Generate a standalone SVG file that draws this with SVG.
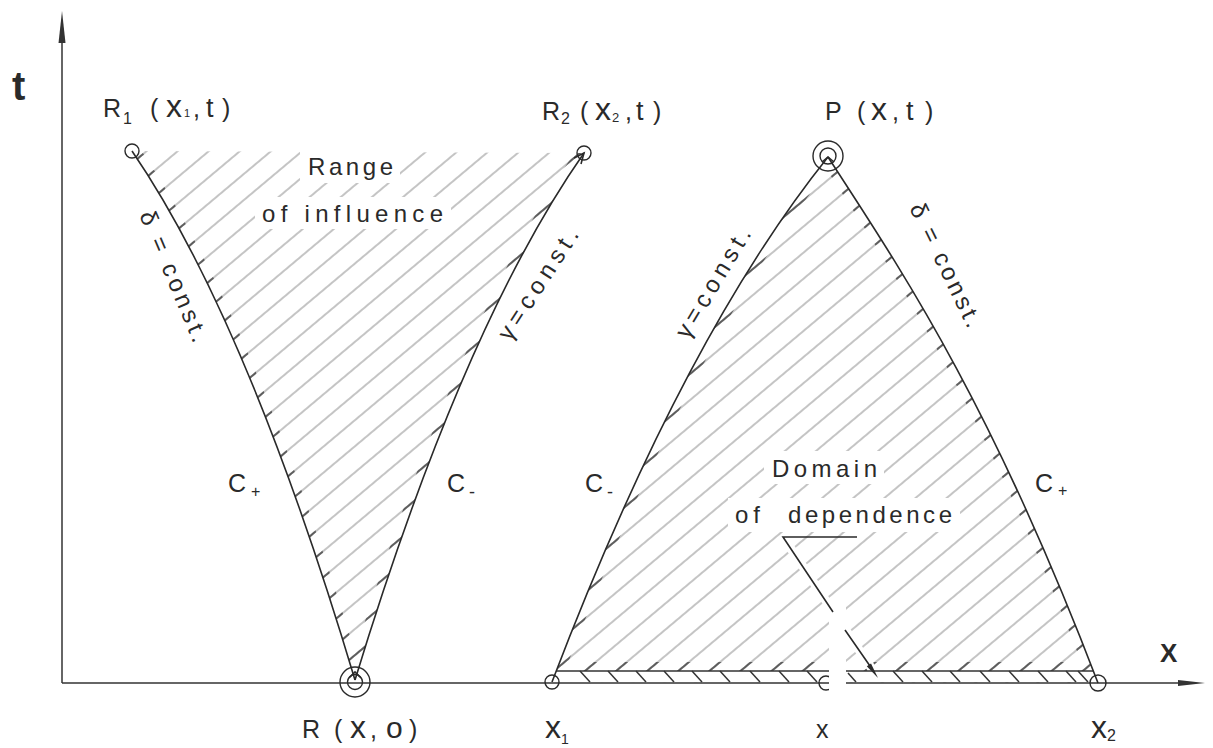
<svg xmlns="http://www.w3.org/2000/svg" width="1213" height="748" viewBox="0 0 1213 748">
<style>
.ln{stroke:#2a2a2a;stroke-width:1.6;fill:none}
.ax{stroke:#333;stroke-width:1.5;fill:none}
.cir{stroke:#2a2a2a;stroke-width:1.4;fill:none}
.tk{stroke:#333;stroke-width:1.5}
.lbl{font-family:"Liberation Sans",Arial,sans-serif;font-size:25px;fill:#2a2a2a}
.lc{font-size:32px}
.sub{font-size:16px}
.txt{font-family:"Liberation Sans",Arial,sans-serif;font-size:24px;fill:#2a2a2a}
.halo{fill:#fff}
</style>
<defs>
<pattern id="hatch" width="60" height="20" patternUnits="userSpaceOnUse" patternTransform="rotate(-40)">
<line x1="0" y1="10" x2="60" y2="10" stroke="#8a8a8a" stroke-width="1"/>
</pattern>
<pattern id="hatchDark" width="60" height="20" patternUnits="userSpaceOnUse" patternTransform="rotate(-40)">
<line x1="0" y1="10" x2="60" y2="10" stroke="#3a3a3a" stroke-width="1.4"/>
</pattern>
<clipPath id="clipA"><path d="M132,151 Q247,319 355,680 Q463,326 584,153 Z"/></clipPath>
<clipPath id="clipB"><path d="M828,157 Q683,338 552,682 L1098,683 C990,400 900,268 828,157 Z"/></clipPath>
<mask id="mA" maskUnits="userSpaceOnUse" x="0" y="0" width="1213" height="748">
<path d="M132,151 Q247,319 355,680 Q463,326 584,153" fill="none" stroke="#fff" stroke-width="16"/>
</mask>
<mask id="mB" maskUnits="userSpaceOnUse" x="0" y="0" width="1213" height="748">
<path d="M828,157 Q683,338 552,682 M828,157 C900,268 990,400 1098,683" fill="none" stroke="#fff" stroke-width="16"/>
<rect x="550" y="662" width="550" height="10" fill="#fff"/>
</mask>
</defs>
<rect width="1213" height="748" fill="#fff"/>

<g id="range-of-influence-hatch" clip-path="url(#clipA)">
<rect x="100" y="140" width="500" height="560" fill="url(#hatch)"/>
<rect x="100" y="140" width="500" height="560" fill="url(#hatchDark)" mask="url(#mA)"/>
</g>
<g id="domain-of-dependence-hatch" clip-path="url(#clipB)">
<rect x="540" y="140" width="570" height="560" fill="url(#hatch)"/>
<rect x="540" y="140" width="570" height="560" fill="url(#hatchDark)" mask="url(#mB)"/>
</g>

<g id="text-halos">
<rect class="halo" x="300" y="150" width="100" height="33"/>
<rect class="halo" x="255" y="197" width="196" height="32"/>
<rect class="halo" x="764" y="451" width="120" height="33"/>
<rect class="halo" x="728" y="498" width="232" height="34"/>
<path d="M783,537 L878,678" stroke="#fff" stroke-width="9" fill="none"/>
</g>

<g id="strip">
<rect x="555" y="671" width="541" height="11" fill="#fff"/>
<line class="tk" x1="556" y1="671" x2="1093" y2="671"/>
<g class="tk">
<line x1="580" y1="671" x2="590" y2="682"/>
<line x1="608" y1="671" x2="618" y2="682"/>
<line x1="636" y1="671" x2="646" y2="682"/>
<line x1="664" y1="671" x2="674" y2="682"/>
<line x1="692" y1="671" x2="702" y2="682"/>
<line x1="720" y1="671" x2="730" y2="682"/>
<line x1="750" y1="671" x2="760" y2="682"/>
<line x1="779" y1="671" x2="789" y2="682"/>
<line x1="807" y1="671" x2="817" y2="682"/>
<line x1="848" y1="673" x2="856" y2="682"/>
<line x1="893" y1="671" x2="903" y2="682"/>
<line x1="922" y1="671" x2="932" y2="682"/>
<line x1="950" y1="671" x2="960" y2="682"/>
<line x1="980" y1="671" x2="990" y2="682"/>
<line x1="1009" y1="671" x2="1019" y2="682"/>
<line x1="1038" y1="671" x2="1048" y2="682"/>
<line x1="1066" y1="671" x2="1076" y2="682"/>
<line x1="1078" y1="671" x2="1088" y2="682"/>
</g>
</g>

<g id="axes">
<line class="ax" x1="62" y1="683" x2="62" y2="40"/>
<polygon points="62,11 58.5,43 65.5,43" fill="#333"/>
<line class="ax" x1="62" y1="683" x2="1180" y2="683"/>
<polygon points="1205,683 1178,680 1178,686" fill="#333"/>
</g>

<g id="connectors">
<path id="c-plus-left" class="ln" d="M132,151 Q247,319 355,680"/>
<path id="c-minus-left" class="ln" d="M355,680 Q463,326 584,153"/>
<path id="c-minus-right" class="ln" d="M828,157 Q683,338 552,682"/>
<path id="c-plus-right" class="ln" d="M828,157 C900,268 990,400 1098,683"/>
<path class="ln" d="M574,158 L584,153 L581,164" stroke-width="1.3"/>
<path class="ln" d="M349,678 L355,672 L361,678" stroke-width="1.3"/>
<path class="ln" d="M822,162 L828,157 L834,162" stroke-width="1.3"/>
</g>

<g id="points">
<g id="R1"><circle class="cir" cx="132" cy="151" r="7"/></g>
<g id="R2"><circle class="cir" cx="584" cy="153" r="7"/></g>
<g id="P"><circle class="cir" cx="828" cy="156" r="15"/><circle class="cir" cx="828" cy="156" r="8"/></g>
<g id="R"><circle class="cir" cx="355" cy="682" r="15"/><circle class="cir" cx="355" cy="682" r="7.5"/></g>
<g id="X1"><circle class="cir" cx="552" cy="682" r="7"/></g>
<g id="X"><circle class="cir" cx="826" cy="683" r="7" stroke="#777"/></g>
<g id="X2"><circle class="cir" cx="1098" cy="683" r="8"/></g>
</g>

<rect id="gap" x="829" y="604" width="17" height="90" fill="#fff"/>

<g id="leader">
<path class="ln" stroke-width="1.3" d="M857,537 L783,537 L833,612 M845,630 L870,666"/>
<polygon points="878,678 866.8,666.2 871,663.4" fill="#2a2a2a"/>
</g>

<g id="labels">
<text x="12" y="100" font-family="Liberation Sans,Arial,sans-serif" font-size="40" font-weight="bold" fill="#2a2a2a">t</text>
<text x="1160" y="662" font-family="Liberation Sans,Arial,sans-serif" font-size="26" font-weight="bold" fill="#2a2a2a">X</text>

<text class="lbl" y="117"><tspan x="103">R</tspan><tspan x="123" y="124" class="sub">1</tspan><tspan x="150" y="117">(</tspan><tspan x="166" class="lc">x</tspan><tspan x="184" y="117" font-size="11">1</tspan><tspan x="193" y="117">,</tspan><tspan x="206" font-size="27">t</tspan><tspan x="222">)</tspan></text>

<text class="lbl" y="120"><tspan x="542">R</tspan><tspan x="561" y="124" class="sub">2</tspan><tspan x="580" y="120">(</tspan><tspan x="595" class="lc">x</tspan><tspan x="612" y="122" font-size="13">2</tspan><tspan x="625" y="120">,</tspan><tspan x="636" font-size="27">t</tspan><tspan x="653">)</tspan></text>

<text class="lbl" y="120"><tspan x="825">P</tspan><tspan x="857">(</tspan><tspan x="871" class="lc">x</tspan><tspan x="892">,</tspan><tspan x="906" font-size="27">t</tspan><tspan x="925">)</tspan></text>

<text class="lbl" y="738"><tspan x="302">R</tspan><tspan x="334">(</tspan><tspan x="350" class="lc">x</tspan><tspan x="370">,</tspan><tspan x="386" font-size="30">o</tspan><tspan x="409">)</tspan></text>

<text class="lbl" y="738"><tspan x="545" class="lc">x</tspan><tspan x="561" y="744" font-size="14">1</tspan></text>
<text class="lbl" x="816" y="738" font-size="26">x</text>
<text class="lbl" y="738"><tspan x="1091" class="lc">x</tspan><tspan x="1107" y="741" font-size="16">2</tspan></text>

<text class="txt" x="308" y="175" textLength="85" lengthAdjust="spacing">Range</text>
<text class="txt" x="262" y="222" textLength="181" lengthAdjust="spacing">of influence</text>
<text class="txt" x="772" y="477" textLength="105" lengthAdjust="spacing">Domain</text>
<text class="txt" x="735" y="523" textLength="25" lengthAdjust="spacing">of</text>
<text class="txt" x="788" y="523" textLength="164" lengthAdjust="spacing">dependence</text>

<text class="lbl" x="228" y="492" font-size="24">C<tspan x="251" y="497" font-size="16">+</tspan></text>
<text class="lbl" x="447" y="492" font-size="24">C<tspan x="469" y="498" font-size="18">-</tspan></text>
<text class="lbl" x="585" y="492" font-size="24">C<tspan x="607" y="498" font-size="18">-</tspan></text>
<text class="lbl" x="1035" y="492" font-size="24">C<tspan x="1058" y="496" font-size="16">+</tspan></text>

<text class="txt" transform="translate(139,215) rotate(67)" textLength="140" lengthAdjust="spacing">δ = const.</text>
<text class="txt" transform="translate(510,342) rotate(-57)" textLength="128" lengthAdjust="spacing">γ=const.</text>
<text class="txt" transform="translate(688,340) rotate(-59)" textLength="124" lengthAdjust="spacing">γ=const.</text>
<text class="txt" transform="translate(909,208) rotate(64)" textLength="135" lengthAdjust="spacing">δ = const.</text>
</g>
</svg>
